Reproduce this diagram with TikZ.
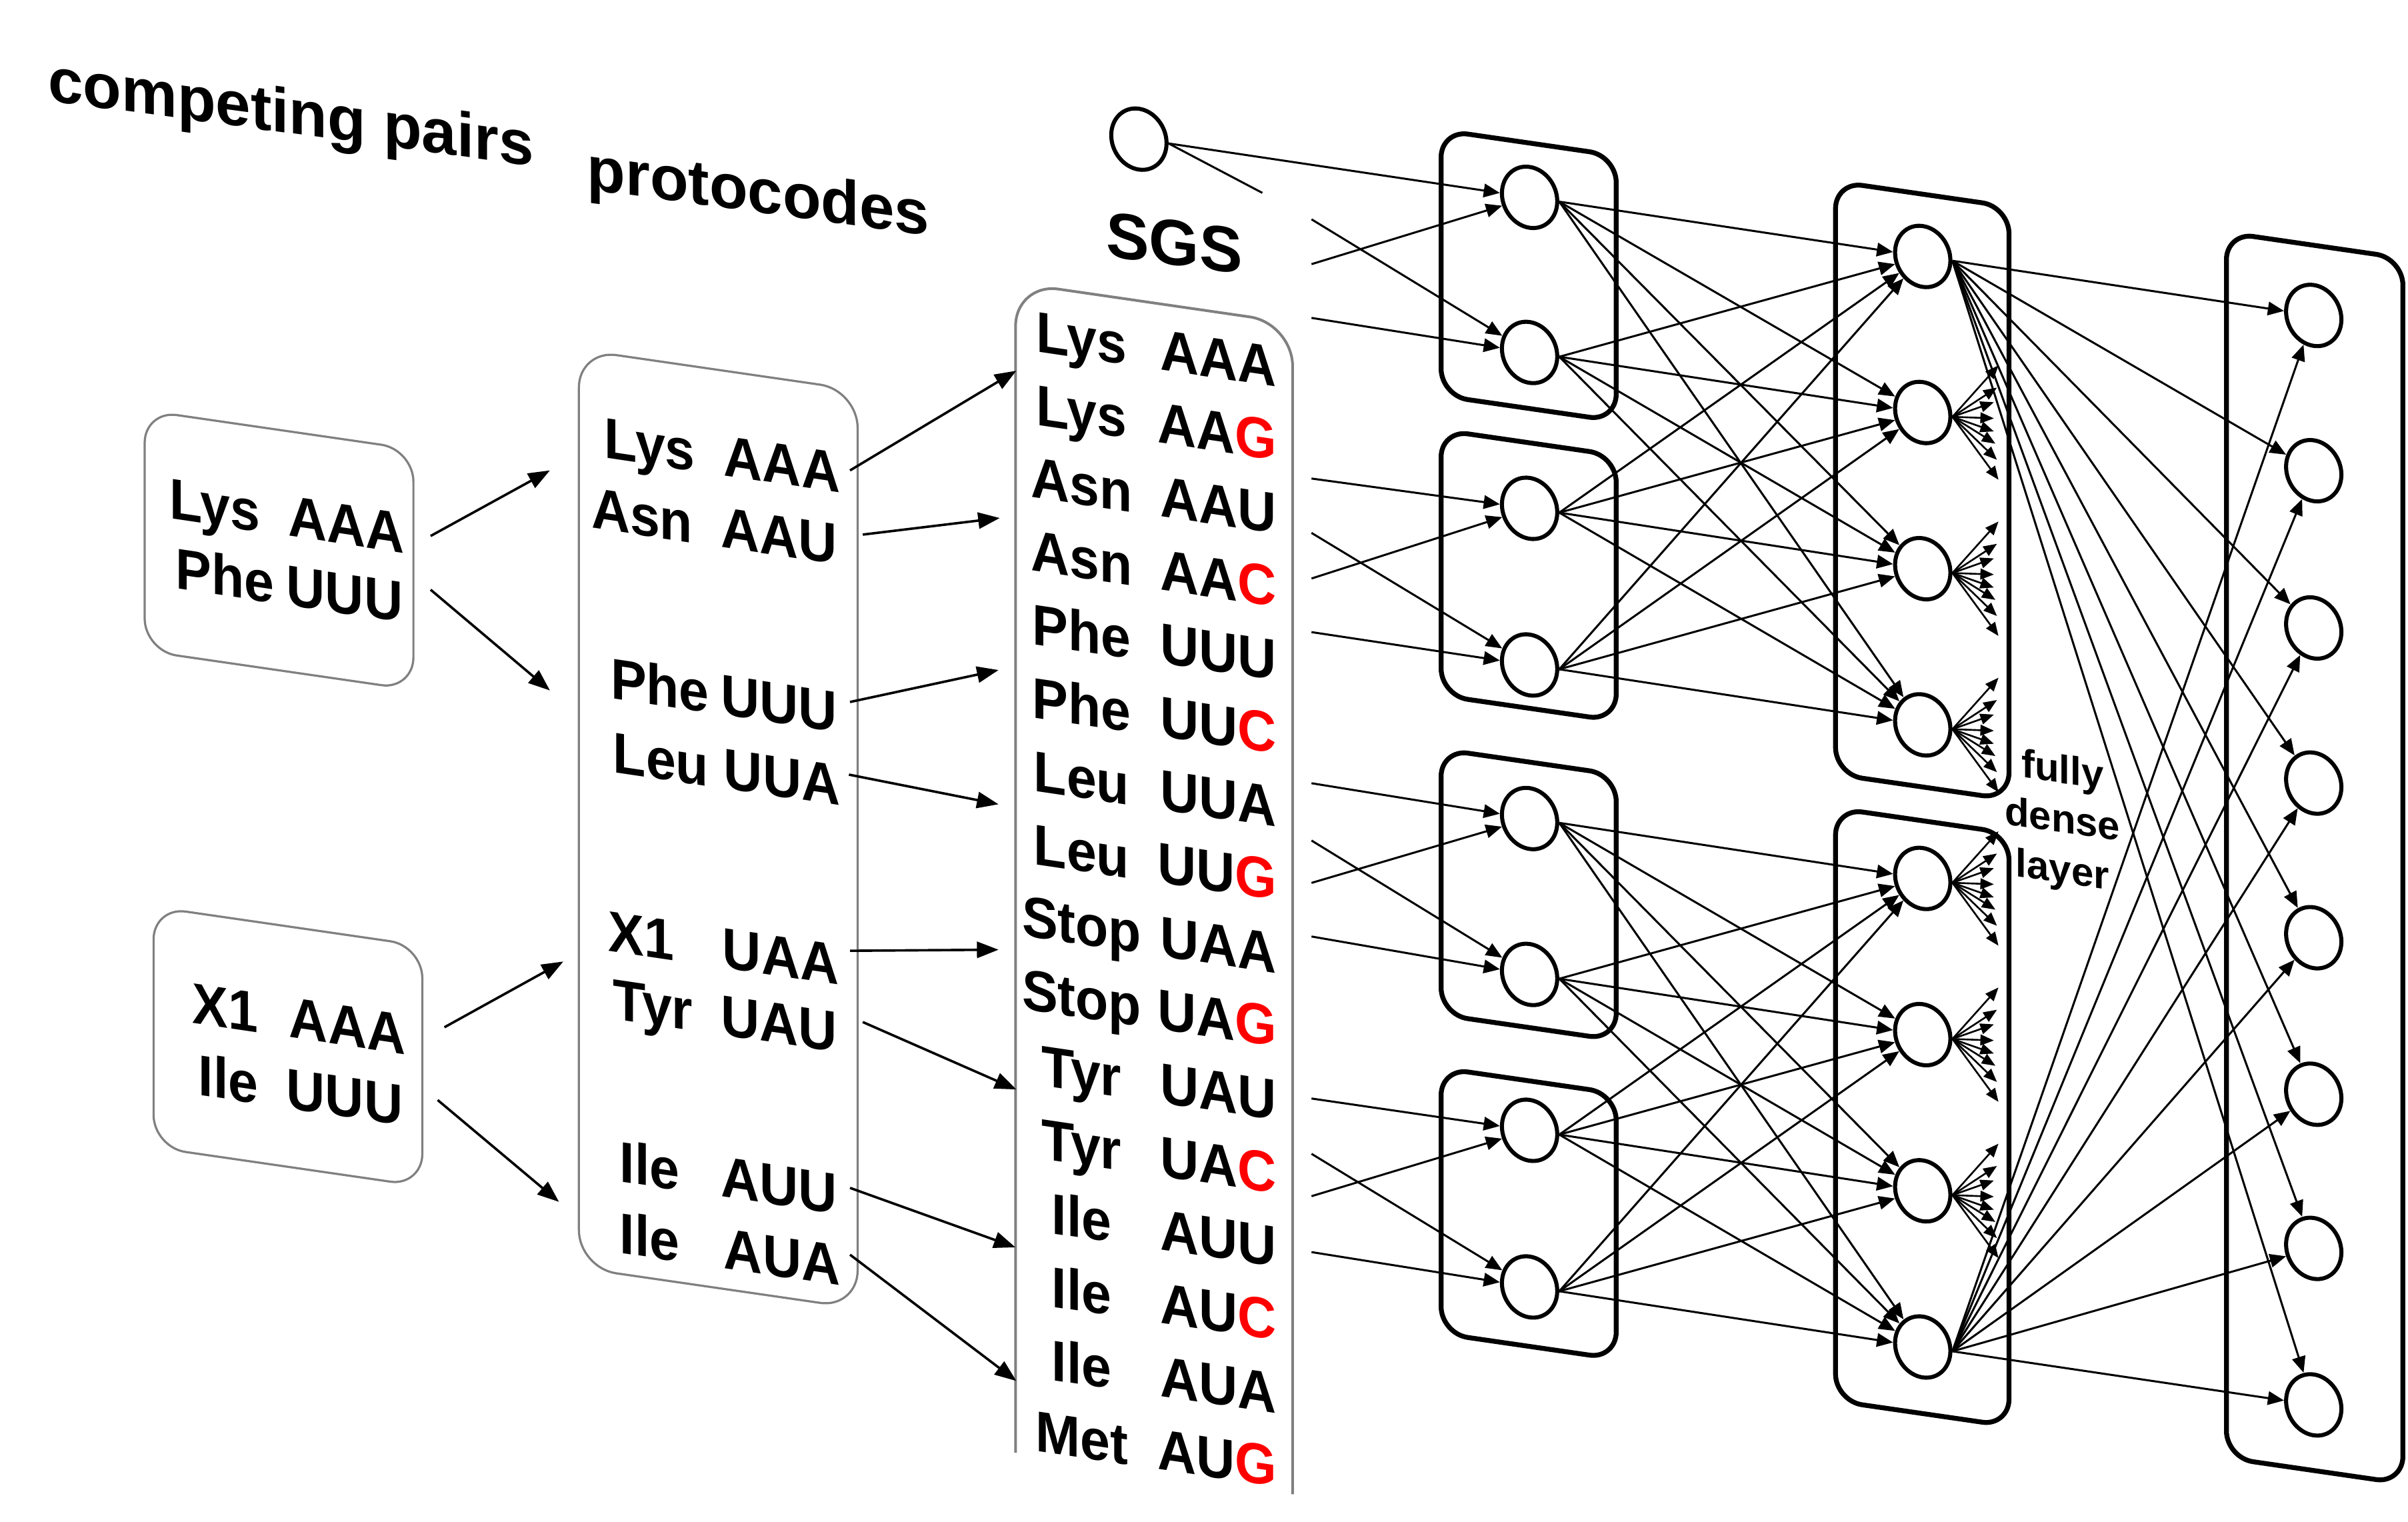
\documentclass[tikz,border=0pt]{standalone}
\usepackage{fontspec}
\setmainfont{Liberation Sans}
\usetikzlibrary{arrows.meta,calc}
\newdimen\pxu
\pxu=0.569055pt
\newcommand\redl[1]{\textcolor{red}{#1}}
\begin{document}
\begin{tikzpicture}[x=0.02cm,y=-0.02cm,
  txt/.style={inner sep=0pt, anchor=base west, font=\bfseries\fontsize{19.9pt}{24pt}\selectfont, yslant=-0.148, yscale=1.07},
  ttl/.style={inner sep=0pt, anchor=base west, font=\bfseries\fontsize{23.3pt}{28pt}\selectfont, yslant=-0.135},
  lbl/.style={inner sep=0pt, anchor=base, font=\bfseries\fontsize{14.8pt}{18pt}\selectfont, yslant=-0.145},
  gbox/.style={draw=gray, line width=0.8pt, rounded corners=12pt, yslant=-0.145, inner sep=0pt},
  nbox/.style={draw=black, line width=1.8pt, rounded corners=10pt, yslant=-0.145, inner sep=0pt},
  neur/.style={circle, draw=black, fill=white, line width=1.5pt, minimum size=20.5pt, inner sep=0pt, yslant=-0.145, yscale=1.1},
  bigarr/.style={-{Triangle[length=8pt,width=6pt]}, line width=0.9pt},
  arr/.style={-{Triangle[length=6pt,width=5pt]}, line width=0.75pt},
  farr/.style={-{Triangle[length=5pt,width=4pt]}, line width=0.65pt},
]
\useasboundingbox (0,0) rectangle (1568,991);

% ---------- titles ----------
\node[ttl] (tcp) at (31,65.5) {competing pairs};
\node[ttl] (tpc) at (382,123.3) {protocodes};
\node[ttl, font=\bfseries\fontsize{23.9pt}{28pt}\selectfont] (tsgs) at (720,166.7) {SGS};

% ---------- left boxes ----------
\node[gbox, minimum width=99.6pt, minimum height=89.1pt] (lbox1) at (181.7,358.2) {};
\node[gbox, minimum width=99.6pt, minimum height=89.1pt] (lbox2) at (187.5,681.5) {};
\node[txt] (l1a) at (110,337.5) {\makebox[153\pxu]{Lys\hfill AAA}};
\node[txt] (l1b) at (114.2,383.2) {\makebox[147.8\pxu]{Phe\hfill UUU}};
\node[txt] (l2a) at (124.9,666) {\makebox[138.9\pxu]{X1\hfill AAA}};
\node[txt] (l2b) at (128.9,713) {\makebox[133.1\pxu]{Ile\hfill UUU}};

% ---------- protocodes ----------
\node[gbox, rounded corners=14pt, minimum width=103.3pt, minimum height=340.3pt] (pbox) at (467.7,539.8) {};
\foreach \px/\py/\pw/\pt [count=\i] in {393.3/298/153.5/Lys\hfill AAA, 384.7/343.7/160.2/Asn\hfill AAU,
   397.3/454.6/147.6/Phe\hfill UUU, 399/502.7/147.8/Leu\hfill UUA, 395.7/619/150.3/X1\hfill UAA,
   399/663.4/145.9/Tyr\hfill UAU, 403.3/769.4/141.6/Ile\hfill AUU, 403.3/815.9/143.5/Ile\hfill AUA}
  \node[txt] (p\i) at (\px,\py) {\makebox[\pw\pxu]{\pt}};

% ---------- SGS column ----------
\draw[draw=gray, line width=1pt, rounded corners=16pt] (661.3,946) -- (661.3,184.2) -- (841.7,210.4) -- (841.7,973);
\foreach \amino/\codon [count=\k] in {Lys/AAA, Lys/AA\redl{G}, Asn/AAU, Asn/AA\redl{C}, Phe/UUU, Phe/UU\redl{C},
   Leu/UUA, Leu/UU\redl{G}, Stop/UAA, Stop/UA\redl{G}, Tyr/UAU, Tyr/UA\redl{C}, Ile/AUU, Ile/AU\redl{C}, Ile/AUA, Met/AU\redl{G}}
  \node[txt] (s\k) at (660,{226.6+47.74*(\k-1)}) {\makebox[88\pxu]{\amino}\makebox[83\pxu][r]{\codon}};

% ---------- network boxes ----------
\foreach \y [count=\i] in {179.5,374.7,582.6,790.2}
  \node[nbox, minimum width=64.9pt, minimum height=98.4pt] (abox\i) at (995.4,\y) {};
\node[nbox, minimum width=64.3pt, minimum height=219.7pt] (bbox1) at (1251.7,319.4) {};
\node[nbox, minimum width=64.3pt, minimum height=219.7pt] (bbox2) at (1251.7,727.4) {};
\node[nbox, minimum width=65.4pt, minimum height=454.1pt] (cbox) at (1507.2,558.7) {};

% ---------- neurons ----------
\node[neur] (bias) at (741.6,90.6) {};
\foreach \y [count=\i] in {128.5,229.5,331,433,533,634.5,736,838}
  \node[neur] (a\i) at (996,\y) {};
\foreach \y [count=\i] in {167,268.6,370.3,472,572,673.7,775.4,877.1}
  \node[neur] (b\i) at (1252,\y) {};
\foreach \y [count=\i] in {205.4,306.5,408.9,509.9,610.6,712.5,812.9,914.8}
  \node[neur] (c\i) at (1506.6,\y) {};

\node[lbl] (fd1) at (1343,510) {fully};
\node[lbl] (fd2) at (1343,542) {dense};
\node[lbl] (fd3) at (1343,575) {layer};

% ---------- left arrows ----------
\foreach \sx/\sy/\ex/\ey [count=\i] in {280.4/349/358.1/306.3, 280.4/384/358.1/449.6, 289.4/668.9/366.8/626.1, 285/716.3/364/782.6} {
  \coordinate (la\i) at (\sx,\sy); \coordinate (lt\i) at (\ex,\ey);
  \draw[bigarr] (la\i) -- (lt\i);
}
% ---------- protocodes -> SGS ----------
\foreach \sx/\sy/\ex/\ey [count=\i] in {553.5/306.3/661.8/241.4, 561.8/348.1/651/337.3, 553.5/457.1/650.2/436.3,
   552.8/504.4/650.2/523.7, 553.5/619.1/650.2/618.4, 561.8/665.5/661.8/709.4, 553.5/773.5/661.2/812.2, 553.5/817/661.8/899.2} {
  \coordinate (ps\i) at (\sx,\sy); \coordinate (pe\i) at (\ex,\ey);
  \draw[bigarr] (ps\i) -- (pe\i);
}

% ---------- inputs to first layer ----------
\draw[arr] (bias.east) -- (a1);
\coordinate (bstub) at (822,125.6);
\draw[line width=0.75pt] (bias.east) -- (bstub);
\foreach \y/\t [count=\i] in {142.8/2,172/1,207/2,311.6/3,347/4,376.7/3,411.6/4,510/5,547.3/6,574.9/5,609.8/6,715.3/7,751.3/8,778.9/7,815.3/8} {
  \coordinate (in\i) at (854,\y);
  \draw[arr] (in\i) -- (a\t);
}

% ---------- layer 1 -> layer 2 ----------
\foreach \i in {1,...,4} {\foreach \j in {1,...,4} {\draw[arr] (a\i.east) -- (b\j);}}
\foreach \i in {5,...,8} {\foreach \j in {5,...,8} {\draw[arr] (a\i.east) -- (b\j);}}

% ---------- layer 2 -> output ----------
\foreach \j in {1,...,8} {\draw[arr] (b1.east) -- (c\j); \draw[arr] (b8.east) -- (c\j);}

% ---------- abbreviated fans ----------
\foreach \n in {2,...,7} {
  \foreach \dx/\dy [count=\m] in {30/-33.5,29/-19,27/-9.5,27/1,27/9.5,28/17.5,29/28,30/41} {
    \coordinate (f\n-\m) at ($(b\n.east)+(\dx,\dy)$);
    \draw[farr] (b\n.east) -- (f\n-\m);
  }
}
\end{tikzpicture}
\end{document}
